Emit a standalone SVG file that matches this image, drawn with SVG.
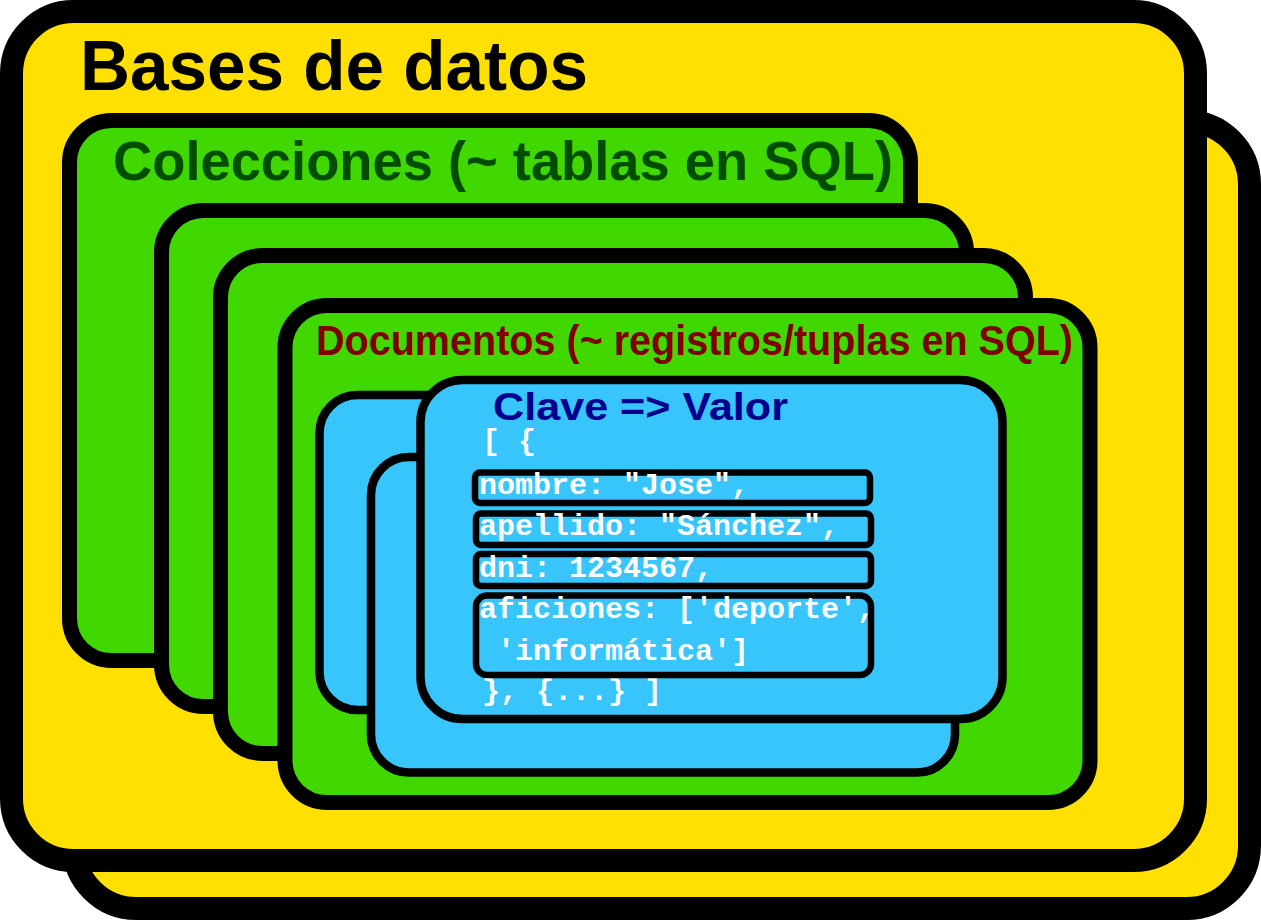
<svg xmlns="http://www.w3.org/2000/svg" width="1261" height="920" viewBox="0 0 1261 920">
<style>
.yel{fill:#FFE000;stroke:#000;stroke-width:23}
.grn{fill:#40D800;stroke:#000;stroke-width:15}
.blu{fill:#38C5FC;stroke:#000;stroke-width:8.5}
.fld{fill:#38C5FC;stroke:#000;stroke-width:6.5}
.h{font-family:"Liberation Sans",Arial,sans-serif;font-weight:bold}
.code{font-family:"Liberation Mono","Courier New",monospace;font-weight:bold;font-size:30px;fill:#fff;white-space:pre}
</style>
<g id="bd-back"><rect class="yel" x="73.5" y="121.5" width="1176" height="787" rx="63"/></g>
<g id="bd-front"><rect class="yel" x="11.5" y="11.5" width="1184" height="849" rx="62"/>
<text class="h" x="80" y="90" font-size="70" fill="#000" textLength="508" lengthAdjust="spacingAndGlyphs">Bases de datos</text></g>
<g id="col1"><rect class="grn" x="69.5" y="120.5" width="841" height="540" rx="42"/>
<text class="h" x="113" y="180" font-size="55" fill="#004D00" textLength="780" lengthAdjust="spacingAndGlyphs">Colecciones (~ tablas en SQL)</text></g>
<g id="col2"><rect class="grn" x="161.5" y="210.5" width="805" height="496" rx="42"/></g>
<g id="col3"><rect class="grn" x="220.5" y="255.5" width="805" height="498" rx="42"/></g>
<g id="col4"><rect class="grn" x="285" y="305.5" width="805" height="497" rx="42"/>
<text class="h" x="316" y="355" font-size="43" fill="#800000" textLength="757" lengthAdjust="spacingAndGlyphs">Documentos (~ registros/tuplas en SQL)</text></g>
<g id="doc1"><rect class="blu" x="319.5" y="395" width="560" height="315" rx="38"/></g>
<g id="doc2"><rect class="blu" x="371" y="457" width="584" height="315.5" rx="38"/></g>
<g id="doc3"><rect class="blu" x="420.5" y="380" width="582" height="339" rx="42"/>
<text class="h" x="493" y="420" font-size="38" fill="#00008C" textLength="295" lengthAdjust="spacingAndGlyphs">Clave =&gt; Valor</text>
<text class="code" x="482" y="450">[ {</text>
<text class="code" x="482" y="700">}, {...} ]</text></g>
<g id="f-nombre"><rect class="fld" x="475" y="472.5" width="395" height="30.5" rx="5"/>
<text class="code" x="479" y="494">nombre: "Jose",</text></g>
<g id="f-apellido"><rect class="fld" x="476" y="513.5" width="395" height="31.5" rx="5"/>
<text class="code" x="479" y="535">apellido: "Sánchez",</text></g>
<g id="f-dni"><rect class="fld" x="476" y="554" width="395" height="32" rx="5"/>
<text class="code" x="479" y="577">dni: 1234567,</text></g>
<g id="f-aficiones"><rect class="fld" x="476" y="595.5" width="395" height="79.5" rx="11"/>
<text class="code" x="479" y="618">aficiones: ['deporte',</text>
<text class="code" x="479" y="660"> 'informática']</text></g>
<g id="connectors"></g>
</svg>
